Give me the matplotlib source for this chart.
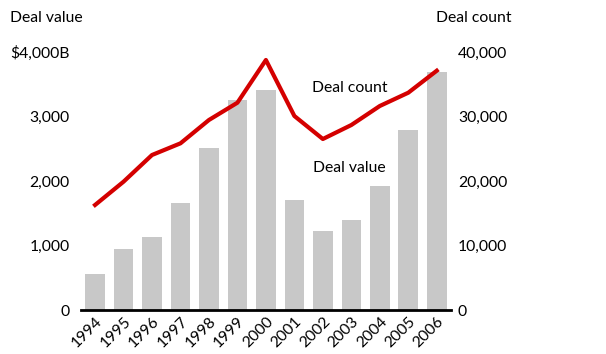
import matplotlib
matplotlib.use("Agg")
import matplotlib.pyplot as plt
import numpy as np

years = ["1994", "1995", "1996", "1997", "1998", "1999", "2000",
         "2001", "2002", "2003", "2004", "2005", "2006"]
deal_value = [558, 946, 1137, 1659, 2512, 3256, 3411, 1705, 1225, 1395, 1922, 2791, 3694]
deal_count = [16280, 19890, 24030, 25840, 29460, 32140, 38760, 30080, 26510, 28680, 31630, 33690, 37100]
left_ticks = [0, 1000, 2000, 3000, 4000]
left_labels = ["0", "1,000", "2,000", "3,000", "$4,000B"]
right_ticks = [0, 10000, 20000, 30000, 40000]
right_labels = ["0", "10,000", "20,000", "30,000", "40,000"]

plt.rcParams['font.family'] = ['Lato', 'DejaVu Sans']
FS = 11.3

fig = plt.figure(figsize=(6.06, 3.54), dpi=100)
ax = fig.add_axes([80.8/606, 1-310/354, (451-80.8)/606, (310-52)/354])
x = np.arange(len(years))
ax.bar(x, deal_value, width=0.69, color="#c8c8c8", zorder=1)
ax.set_xlim(-0.5, 12.5)
ax.set_ylim(0, 4000)
ax.set_yticks(left_ticks)
ax.set_yticklabels(left_labels, fontsize=FS)
ax.set_xticks(x)
ax.set_xticklabels(years, rotation=45, ha='right', rotation_mode='anchor', fontsize=FS)
ax.tick_params(axis='both', length=0, pad=8)
ax.tick_params(axis='x', pad=3)
for s in ['top', 'right', 'left']:
    ax.spines[s].set_visible(False)
ax.spines['bottom'].set_linewidth(2)
ax.spines['bottom'].set_zorder(5)

ax2 = ax.twinx()
ax2.plot(x, deal_count, color="#d40000", lw=3, zorder=3, clip_on=False)
ax2.set_ylim(0, 40000)
ax2.set_yticks(right_ticks)
ax2.set_yticklabels(right_labels, fontsize=FS)
ax2.tick_params(axis='y', length=0, pad=5)
for s in ['top', 'right', 'left', 'bottom']:
    ax2.spines[s].set_visible(False)

fig.text(10/606, 1-18/354, "Deal value", fontsize=FS, va='center', ha='left')
fig.text(512/606, 1-18/354, "Deal count", fontsize=FS, va='center', ha='right')
fig.text(312/606, 1-88/354, "Deal count", fontsize=FS, va='center', ha='left')
fig.text(313/606, 1-168/354, "Deal value", fontsize=FS, va='center', ha='left')

fig.savefig("out.png", dpi=100)
